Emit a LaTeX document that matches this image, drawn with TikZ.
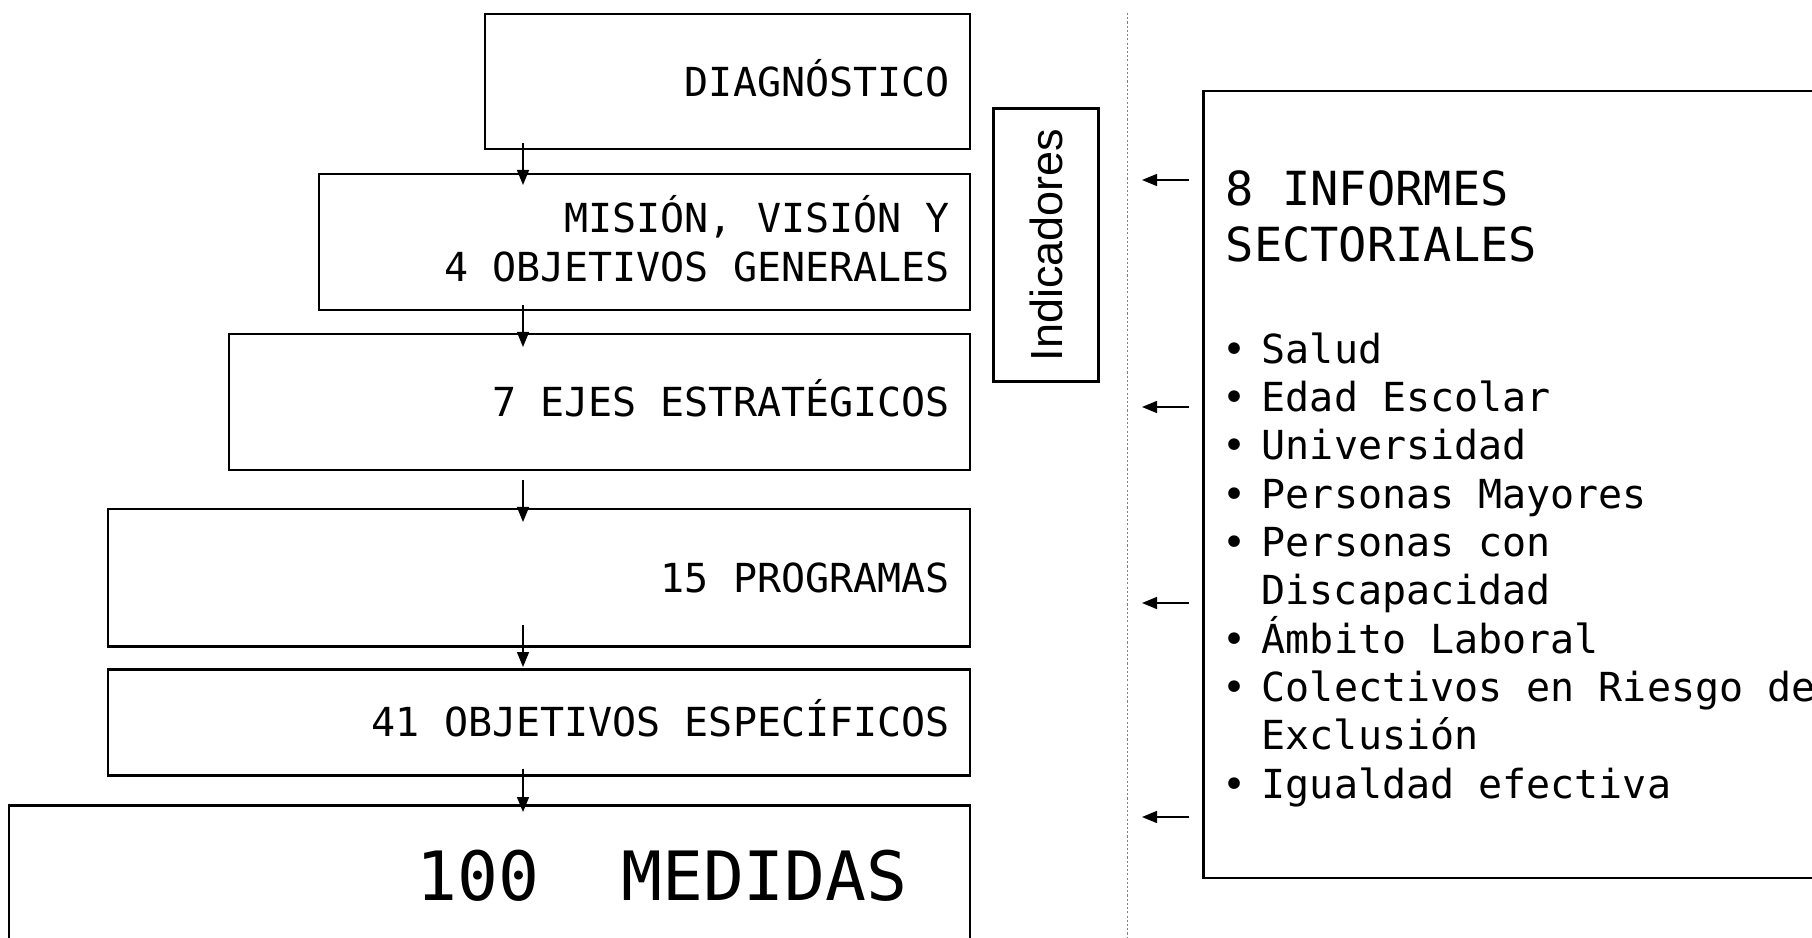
\documentclass[tikz,border=0pt]{standalone}
\usepackage{fontspec}
\newfontfamily\letra[WordSpace={1,0,0}]{DejaVu Sans Mono}
\newfontfamily\rotulo{Liberation Sans}
\usepackage{tikz}
\usetikzlibrary{arrows.meta,calc}

\newcommand\vineta{•\hspace{1.5mm}}
\newcommand\sangria{\hspace*{3.9mm}}

\begin{document}
\begin{tikzpicture}[x=0.1mm,y=-0.1mm]
  \tikzset{>={Triangle[length=1.5mm,width=1.2mm]}}
  \tikzset{
    caja/.style 2 args={draw,line width=.25mm,anchor=north east,inner xsep=2mm,
      text width=#1,minimum height=#2,align=flush right,text height=2.9mm,text depth=0pt,
      font=\letra\fontsize{11.38}{13.95}\selectfont},
    flecha/.style={->,line width=.15mm}
  }
  % page frame, whatever sticks out is cut away
  \path[use as bounding box] (0,0) rectangle (1812,938);
  \clip (0,0) rectangle (1812,938);

  % column of boxes on the left, all flush with the same right edge
  \node[caja={44.5mm}{13.5mm}] (diag) at (971,13) {DIAGNÓSTICO};
  \node[caja={61.1mm}{13.6mm},text depth=4.9mm] (mision) at (971,173)
    {MISIÓN, VISIÓN Y\\4 OBJETIVOS GENERALES};
  \node[caja={70.1mm}{13.6mm}] (ejes) at (971,333) {7 EJES ESTRATÉGICOS};
  \node[caja={82.2mm}{13.7mm}] (programas) at (971,508) {15 PROGRAMAS};
  \node[caja={82.2mm}{10.6mm}] (objetivos) at (971,668) {41 OBJETIVOS ESPECÍFICOS};
  \node[caja={83.7mm}{14mm},inner xsep=6.2mm,text height=5mm,
    font=\letra\fontsize{19.35}{22}\selectfont] (medidas) at (971,804) {100~~MEDIDAS};

  % arrows going down, they overlap the box edges a little
  \coordinate (eje) at (523,0);
  \foreach \a/\b/\ya/\yb in {diag/mision/-7/12, mision/ejes/-6/14,
      ejes/programas/9/14, programas/objetivos/-22/-1, objetivos/medidas/-8/8}
    \draw[flecha] ($(\a.south -| eje)+(0,\ya)$) -- ($(\b.north -| eje)+(0,\yb)$);

  \node[draw,line width=.25mm,rotate=90,minimum width=27.3mm,minimum height=10.5mm,
    font=\rotulo\fontsize{12.8}{14}\selectfont] (indic) at (1046,245) {Indicadores};

  % dotted separator
  \coordinate (sepA) at (1127,13);
  \coordinate (sepB) at (1127,938);
  \draw[gray,line width=.1mm,dash pattern=on .6pt off .6pt] (sepA) -- (sepB);

  % right hand box, its right side is off the page
  \node[draw,line width=.25mm,anchor=north west,minimum width=70mm,
    minimum height=78.7mm] (informes) at (1202,90) {};
  % multi-line nodes: base is the baseline of the last line
  \node[anchor=base west,inner sep=0,align=left,
    font=\letra\fontsize{13.37}{16.2}\selectfont] (titulo) at (1225,262)
    {8 INFORMES\\SECTORIALES};
  \node[anchor=base west,inner sep=0,align=left,
    font=\letra\fontsize{11.38}{13.74}\selectfont] (lista) at (1222,798)
    {\vineta Salud\\
     \vineta Edad Escolar\\
     \vineta Universidad\\
     \vineta Personas Mayores\\
     \vineta Personas con\\
     \sangria Discapacidad\\
     \vineta Ámbito Laboral\\
     \vineta Colectivos en Riesgo de\\
     \sangria Exclusión\\
     \vineta Igualdad efectiva};

  \foreach \y [count=\i] in {180,407,603,817} {
    \coordinate (ind\i) at (1142,\y);
    \draw[flecha] ($(informes.west |- ind\i)+(-13,0)$) -- (ind\i);
  }
\end{tikzpicture}
\end{document}
